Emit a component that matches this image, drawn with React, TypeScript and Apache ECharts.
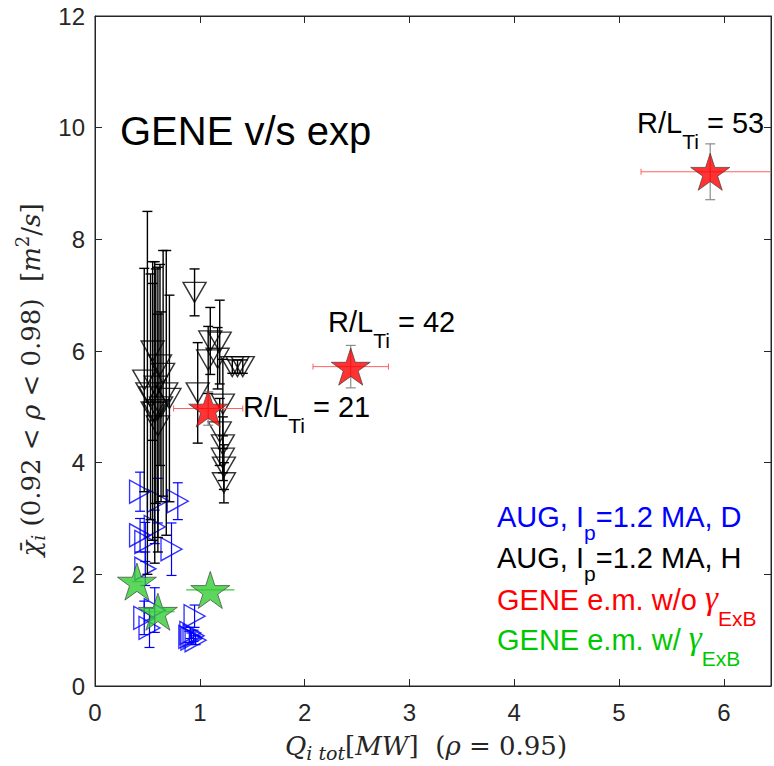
import React, { useEffect, useRef } from 'react';
import * as echarts from 'echarts';

const X_TICKS = [0, 1, 2, 3, 4, 5, 6];
const Y_TICKS = [0, 2, 4, 6, 8, 10, 12];
const X_MAX = 6.45;
const Y_MAX = 12;

// AUG, Ip=1.2 MA, H : [Q_i tot, chi_i, chi error]
const augH: number[][] = [
  [0.50, 5.25, 3.25], [0.55, 6.00, 1.60], [0.57, 4.90, 2.70], [0.60, 4.95, 2.55],
  [0.62, 5.75, 1.80], [0.65, 5.60, 2.20], [0.68, 5.25, 2.55], [0.47, 5.48, 2.00],
  [0.58, 5.37, 2.10], [0.63, 5.00, 1.70], [0.53, 5.18, 2.20], [0.60, 4.66, 2.00],
  [0.71, 5.15, 1.85], [0.55, 4.91, 2.30],
  [0.95, 7.05, 0.42], [1.10, 6.18, 0.60], [1.19, 6.16, 0.75], [1.08, 5.84, 0.60],
  [1.17, 5.87, 0.55], [1.31, 5.72, 0.12], [1.36, 5.72, 0.12], [1.41, 5.72, 0.12],
  [0.98, 5.25, 0.90], [1.22, 5.05, 0.80], [1.19, 4.55, 0.60], [1.22, 4.32, 0.50],
  [1.22, 4.08, 0.40], [1.23, 3.92, 0.40], [1.23, 3.64, 0.36],
];

// AUG, Ip=1.2 MA, D : [Q_i tot, chi_i, chi error]
const augD: number[][] = [
  [0.43, 3.48, 0.35], [0.60, 3.32, 0.40], [0.79, 3.31, 0.33], [0.43, 2.70, 0.30],
  [0.48, 2.58, 0.35], [0.57, 2.85, 0.30], [0.73, 2.45, 0.47], [0.48, 2.10, 0.30],
  [0.47, 1.22, 0.30], [0.52, 1.04, 0.35], [0.57, 1.36, 0.40], [0.95, 1.25, 0.20],
  [0.90, 0.88, 0.10], [0.92, 0.85, 0.10], [0.94, 0.90, 0.10], [0.96, 0.82, 0.08],
  [0.91, 0.95, 0.10],
];

// GENE e.m. w/o gamma_ExB : [Q, chi, Q error, chi error]
const geneNoExB: number[][] = [
  [1.08, 4.97, 0.33, 0.30],
  [2.44, 5.72, 0.36, 0.38],
  [5.87, 9.21, 0.66, 0.50],
];
const RLT_VALUES = ['21', '42', '53'];

// GENE e.m. w/ gamma_ExB : [Q, chi, Q error]
const geneExB: number[][] = [
  [0.40, 1.87, 0.05],
  [0.60, 1.33, 0.16],
  [1.10, 1.72, 0.23],
];

const SANS = "'Liberation Sans', Arial, Helvetica, sans-serif";
const SERIF = "'DejaVu Serif', 'Liberation Serif', serif";
const THIN_SERIF = "'Liberation Serif', 'DejaVu Serif', serif";
const AX = '#262626';

let mctx: CanvasRenderingContext2D | null = null;
function measure(t: string, size: number, family: string, italic: boolean) {
  if (!mctx) mctx = document.createElement('canvas').getContext('2d');
  mctx!.font = `${italic ? 'italic ' : ''}${size}px ${family}`;
  return mctx!.measureText(t).width;
}

type Part = { t: string; size: number; dy?: number; color?: string; family?: string; italic?: boolean };

function layout(parts: Part[], x: number, baseline: number, align: 'left' | 'center', color: string) {
  const ws = parts.map((p) => measure(p.t, p.size, p.family || SANS, !!p.italic));
  const total = ws.reduce((a, b) => a + b, 0);
  let cx = align === 'center' ? x - total / 2 : x;
  return parts.map((p, i) => {
    const el = {
      type: 'text',
      x: cx,
      y: baseline + (p.dy || 0) - 0.35 * p.size,
      silent: true,
      style: {
        text: p.t,
        fill: p.color || color,
        fontSize: p.size,
        fontFamily: p.family || SANS,
        fontStyle: p.italic ? 'italic' : 'normal',
        textAlign: 'left',
        verticalAlign: 'middle',
        textVerticalAlign: 'middle',
      },
    };
    cx += ws[i];
    return el;
  });
}

function starPath() {
  const pts: string[] = [];
  for (let i = 0; i < 10; i++) {
    const r = i % 2 === 0 ? 50 : 19.1;
    const a = ((-90 + i * 36) * Math.PI) / 180;
    pts.push(`${(50 + r * Math.cos(a)).toFixed(2)} ${(50 + r * Math.sin(a)).toFixed(2)}`);
  }
  return 'path://M' + pts.join(' L') + ' Z';
}

function clampY(v: number, cs: any) {
  return Math.max(cs.y, Math.min(cs.y + cs.height, v));
}
function clampX(v: number, cs: any) {
  return Math.max(cs.x, Math.min(cs.x + cs.width, v));
}

function vErr(color: string, lw: number, cap: number, errDim: number) {
  return (params: any, api: any) => {
    const x = api.value(0), y = api.value(1), e = api.value(errDim);
    const cs = params.coordSys;
    const t = api.coord([x, y + e]);
    const b = api.coord([x, y - e]);
    const ty = clampY(t[1], cs), by = clampY(b[1], cs);
    const st = { stroke: color, lineWidth: lw };
    return {
      type: 'group',
      children: [
        { type: 'line', shape: { x1: t[0], y1: ty, x2: b[0], y2: by }, style: st },
        { type: 'line', shape: { x1: t[0] - cap, y1: ty, x2: t[0] + cap, y2: ty }, style: st },
        { type: 'line', shape: { x1: b[0] - cap, y1: by, x2: b[0] + cap, y2: by }, style: st },
      ],
    };
  };
}

function hErr(color: string, lw: number, cap: number, errDim: number) {
  return (params: any, api: any) => {
    const x = api.value(0), y = api.value(1), e = api.value(errDim);
    const cs = params.coordSys;
    const l = api.coord([x - e, y]);
    const r = api.coord([x + e, y]);
    const lx = clampX(l[0], cs), rx = clampX(r[0], cs);
    const st = { stroke: color, lineWidth: lw };
    const ch: any[] = [{ type: 'line', shape: { x1: lx, y1: l[1], x2: rx, y2: r[1] }, style: st }];
    if (cap > 0) {
      if (l[0] >= cs.x) ch.push({ type: 'line', shape: { x1: lx, y1: l[1] - cap, x2: lx, y2: l[1] + cap }, style: st });
      if (r[0] <= cs.x + cs.width) ch.push({ type: 'line', shape: { x1: rx, y1: r[1] - cap, x2: rx, y2: r[1] + cap }, style: st });
    }
    return { type: 'group', children: ch };
  };
}

export default function App() {
  const ref = useRef<HTMLDivElement>(null);
  useEffect(() => {
    if (!ref.current) return;
    const chart = echarts.init(ref.current, undefined, { renderer: 'svg' });
    const STAR = starPath();

    const gLeft = 95, gTop = 16, gW = 678, gH = 670;

    const labelParts = (v: string): Part[] => [
      { t: 'R/L', size: 29 },
      { t: 'Ti', size: 21, dy: 16 },
      { t: ' = ' + v, size: 29 },
    ];
    const labelPos = [
      [243, 417],
      [328, 332],
      [637, 133],
    ];

    const graphics: any[] = [];
    graphics.push(...layout([{ t: 'GENE v/s exp', size: 40 }], 120, 145, 'left', '#000'));
    RLT_VALUES.forEach((v, i) => {
      graphics.push(...layout(labelParts(v), labelPos[i][0], labelPos[i][1], 'left', '#000'));
    });
    graphics.push(
      ...layout(
        [{ t: 'AUG, I', size: 29 }, { t: 'p', size: 21, dy: 13 }, { t: '=1.2 MA, D', size: 29 }],
        497, 527, 'left', '#0000ff'
      )
    );
    graphics.push(
      ...layout(
        [{ t: 'AUG, I', size: 29 }, { t: 'p', size: 21, dy: 13 }, { t: '=1.2 MA, H', size: 29 }],
        497, 568, 'left', '#000000'
      )
    );
    graphics.push(
      ...layout(
        [
          { t: 'GENE e.m. w/o ', size: 29 },
          { t: 'γ', size: 33, family: THIN_SERIF, italic: true },
          { t: 'ExB', size: 21, dy: 16 },
        ],
        497, 610, 'left', '#ff0000'
      )
    );
    graphics.push(
      ...layout(
        [
          { t: 'GENE e.m. w/ ', size: 29 },
          { t: 'γ', size: 33, family: THIN_SERIF, italic: true },
          { t: 'ExB', size: 21, dy: 16 },
        ],
        497, 650, 'left', '#00c800'
      )
    );
    // x axis title
    graphics.push(
      ...layout(
        [
          { t: 'Q', size: 26, family: SERIF, italic: true },
          { t: 'i tot', size: 19, family: SERIF, italic: true, dy: 5 },
          { t: '[', size: 26, family: SERIF },
          { t: 'MW', size: 26, family: SERIF, italic: true },
          { t: ']  (', size: 26, family: SERIF },
          { t: 'ρ', size: 26, family: SERIF, italic: true },
          { t: ' = 0.95)', size: 26, family: SERIF },
        ],
        gLeft + gW / 2 - 8, 755, 'center', AX
      )
    );
    // y axis title (rotated)
    graphics.push({
      type: 'group',
      x: 40,
      y: 380,
      rotation: Math.PI / 2,
      silent: true,
      children: layout(
        [
          { t: 'χ̄', size: 26, family: SERIF, italic: true },
          { t: 'i', size: 19, family: SERIF, italic: true, dy: 5 },
          { t: ' (0.92 < ', size: 26, family: SERIF },
          { t: 'ρ', size: 26, family: SERIF, italic: true },
          { t: ' < 0.98)  [', size: 26, family: SERIF },
          { t: 'm', size: 26, family: SERIF, italic: true },
          { t: '2', size: 18, family: SERIF, dy: -11 },
          { t: '/', size: 26, family: SERIF },
          { t: 's', size: 26, family: SERIF, italic: true },
          { t: ']', size: 26, family: SERIF },
        ],
        0, 0, 'center', AX
      ),
    });

    const axCommon = {
      type: 'value',
      splitLine: { show: false },
      axisLine: { show: true, onZero: false, lineStyle: { color: AX, width: 1 } },
      axisTick: { show: true, inside: true, length: 7, lineStyle: { color: AX, width: 1 } },
    };

    chart.setOption({
      animation: false,
      backgroundColor: '#ffffff',
      grid: { left: gLeft, top: gTop, width: gW, height: gH, show: true, borderColor: AX, borderWidth: 1, backgroundColor: 'transparent' },
      xAxis: [
        {
          ...axCommon,
          min: 0, max: X_MAX, interval: 1, position: 'bottom',
          axisLabel: {
            show: true, fontSize: 24, color: AX, fontFamily: SANS, margin: 14,
            formatter: (v: number) => (X_TICKS.includes(v) ? String(v) : ''),
          },
        },
        {
          ...axCommon,
          min: 0, max: X_MAX, interval: 1, position: 'top',
          axisLabel: { show: false },
        },
      ],
      yAxis: [
        {
          ...axCommon,
          min: 0, max: Y_MAX, interval: 2, position: 'left',
          axisLabel: {
            show: true, fontSize: 24, color: AX, fontFamily: SANS, margin: 10,
            formatter: (v: number) => (Y_TICKS.includes(v) ? String(v) : ''),
          },
        },
        {
          ...axCommon,
          min: 0, max: Y_MAX, interval: 2, position: 'right',
          axisLabel: { show: false },
        },
      ],
      graphic: graphics,
      series: [
        {
          type: 'custom', name: 'D err', renderItem: vErr('#0000ff', 1.2, 5, 2),
          data: augD, encode: { x: 0, y: 1 }, z: 2, silent: true,
        },
        {
          type: 'scatter', name: 'D', data: augD.map((d) => [d[0], d[1]]),
          symbol: 'triangle', symbolRotate: -90, symbolSize: [23, 21],
          itemStyle: { color: 'rgba(0,0,0,0)', borderColor: '#0000ff', borderWidth: 1.4 }, z: 3, silent: true,
        },
        {
          type: 'custom', name: 'H err', renderItem: vErr('#000000', 1.4, 5, 2),
          data: augH, encode: { x: 0, y: 1 }, z: 4, silent: true,
        },
        {
          type: 'scatter', name: 'H', data: augH.map((d) => [d[0], d[1]]),
          symbol: 'triangle', symbolRotate: 180, symbolSize: [23, 20],
          itemStyle: { color: 'rgba(0,0,0,0)', borderColor: '#000000', borderWidth: 1.4 }, z: 5, silent: true,
        },
        {
          type: 'custom', name: 'noExB yerr', renderItem: vErr('#8c8c8c', 1.2, 5, 3),
          data: geneNoExB, encode: { x: 0, y: 1 }, z: 6, silent: true,
        },
        {
          type: 'custom', name: 'noExB xerr', renderItem: hErr('#ff6060', 1, 3, 2),
          data: geneNoExB, encode: { x: 0, y: 1 }, z: 6, silent: true,
        },
        {
          type: 'scatter', name: 'noExB', data: geneNoExB.map((d) => [d[0], d[1]]),
          symbol: STAR, symbolKeepAspect: true, symbolSize: 39,
          itemStyle: { color: '#ff0000', borderColor: '#333333', borderWidth: 0.8 }, z: 7, silent: true,
        },
        {
          type: 'custom', name: 'ExB xerr', renderItem: hErr('#33cc33', 1.2, 0, 2),
          data: geneExB, encode: { x: 0, y: 1 }, z: 8, silent: true,
        },
        {
          type: 'scatter', name: 'ExB', data: geneExB.map((d) => [d[0], d[1]]),
          symbol: STAR, symbolKeepAspect: true, symbolSize: 39,
          itemStyle: { color: '#33cc33', borderColor: '#333333', borderWidth: 0.8 }, z: 9, silent: true,
        },
      ],
    });
    return () => chart.dispose();
  }, []);
  return <div ref={ref} style={{ width: 774, height: 766, position: 'absolute', left: 0, top: 0 }} />;
}
